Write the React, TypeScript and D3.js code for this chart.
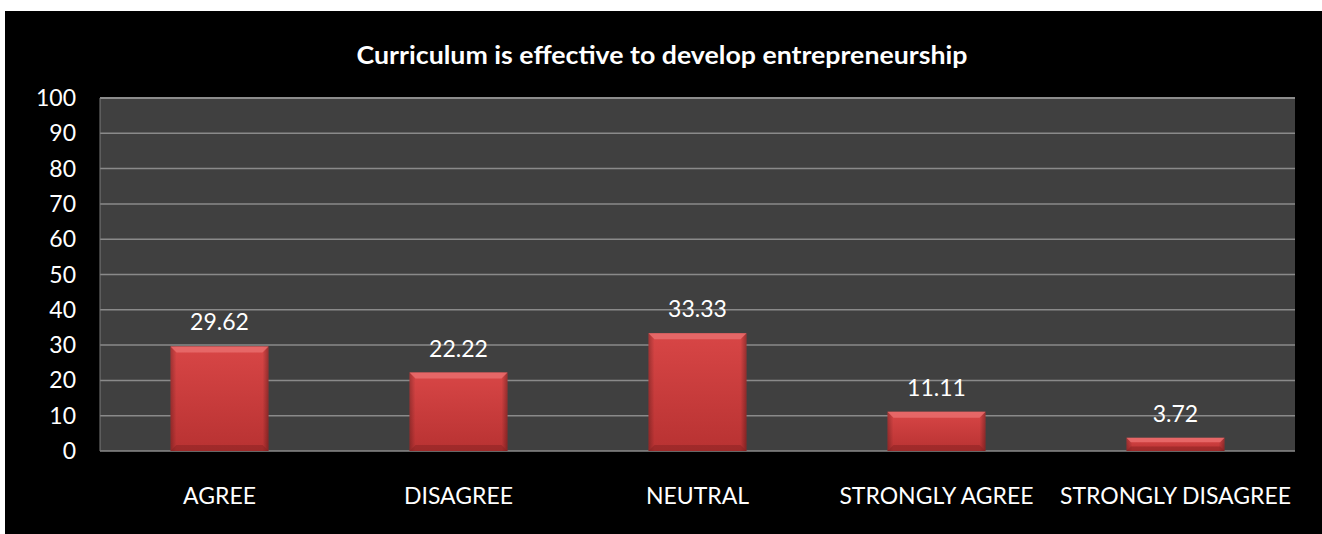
import React from "react";
import * as d3 from "d3";

const categories = ["AGREE", "DISAGREE", "NEUTRAL", "STRONGLY AGREE", "STRONGLY DISAGREE"];
const values = [29.62, 22.22, 33.33, 11.11, 3.72];
const valueLabels = ["29.62", "22.22", "33.33", "11.11", "3.72"];
const yTicks = [0, 10, 20, 30, 40, 50, 60, 70, 80, 90, 100];
const title = "Curriculum is effective to develop entrepreneurship";

const W = 1322;
const H = 534;
const FONT = "Lato, 'Open Sans', sans-serif";

export default function App() {
  const plotL = 100, plotR = 1295, plotT = 98, plotB = 451;
  const x = d3.scaleBand<string>().domain(categories).range([plotL, plotR]).paddingInner(0.59).paddingOuter(0.295);
  const y = d3.scaleLinear().domain([0, 100]).range([plotB, plotT]);
  const bw = x.bandwidth();

  return (
    <svg width={W} height={H} style={{ position: "absolute", left: 0, top: 0, display: "block" }}>
      <defs>
        <linearGradient id="barV" x1="0" y1="0" x2="0" y2="1">
          <stop offset="0" stopColor="#d84646" />
          <stop offset="1" stopColor="#b83232" />
        </linearGradient>
        <linearGradient id="barH" x1="0" y1="0" x2="1" y2="0">
          <stop offset="0" stopColor="#000" stopOpacity="0.25" />
          <stop offset="0.06" stopColor="#000" stopOpacity="0" />
          <stop offset="0.94" stopColor="#000" stopOpacity="0" />
          <stop offset="1" stopColor="#000" stopOpacity="0.3" />
        </linearGradient>
      </defs>
      <rect x={0} y={0} width={W} height={H} fill="#ffffff" />
      <rect x={5} y={11} width={W - 5} height={H - 11} fill="#000000" />
      <text x={662} y={64} textAnchor="middle" fill="#ffffff" fontFamily={FONT} fontWeight="bold" fontSize={25} textLength={611} lengthAdjust="spacingAndGlyphs">
        {title}
      </text>
      <rect x={plotL} y={plotT} width={plotR - plotL} height={plotB - plotT} fill="#404040" />
      {yTicks.map((t) => (
        <line key={t} x1={plotL} x2={plotR} y1={y(t)} y2={y(t)} stroke={t === 100 ? "#8c8c8c" : "#8a8a8a"} strokeWidth={t === 100 ? 2 : 1.5} />
      ))}
      <line x1={plotL} x2={plotL} y1={plotT} y2={plotB} stroke="#7a7a7a" strokeWidth={1} />
      {yTicks.map((t) => (
        <text key={"l" + t} x={76} y={y(t)} dy="0.35em" textAnchor="end" fill="#ffffff" fontFamily={FONT} fontSize={23}>
          {t}
        </text>
      ))}
      {categories.map((c, i) => {
        const bx = x(c)!;
        const by = y(values[i]);
        const bh = plotB - by;
        const e = Math.min(6, bh / 3);
        return (
          <g key={c}>
            <rect x={bx} y={by} width={bw} height={bh} fill="url(#barV)" />
            <rect x={bx} y={by} width={bw} height={bh} fill="url(#barH)" />
            <polygon points={`${bx},${by} ${bx + bw},${by} ${bx + bw - e},${by + e} ${bx + e},${by + e}`} fill="#e86a6a" opacity={0.9} />
            <polygon points={`${bx},${plotB} ${bx + bw},${plotB} ${bx + bw - e},${plotB - e} ${bx + e},${plotB - e}`} fill="#8a2222" opacity={0.55} />
            <text x={bx + bw / 2} y={by - 24} dy="0.35em" textAnchor="middle" fill="#ffffff" fontFamily={FONT} fontSize={23}>
              {valueLabels[i]}
            </text>
            <text x={bx + bw / 2} y={496} dy="0.35em" textAnchor="middle" fill="#ffffff" fontFamily={FONT} fontSize={23}>
              {c}
            </text>
          </g>
        );
      })}
    </svg>
  );
}
